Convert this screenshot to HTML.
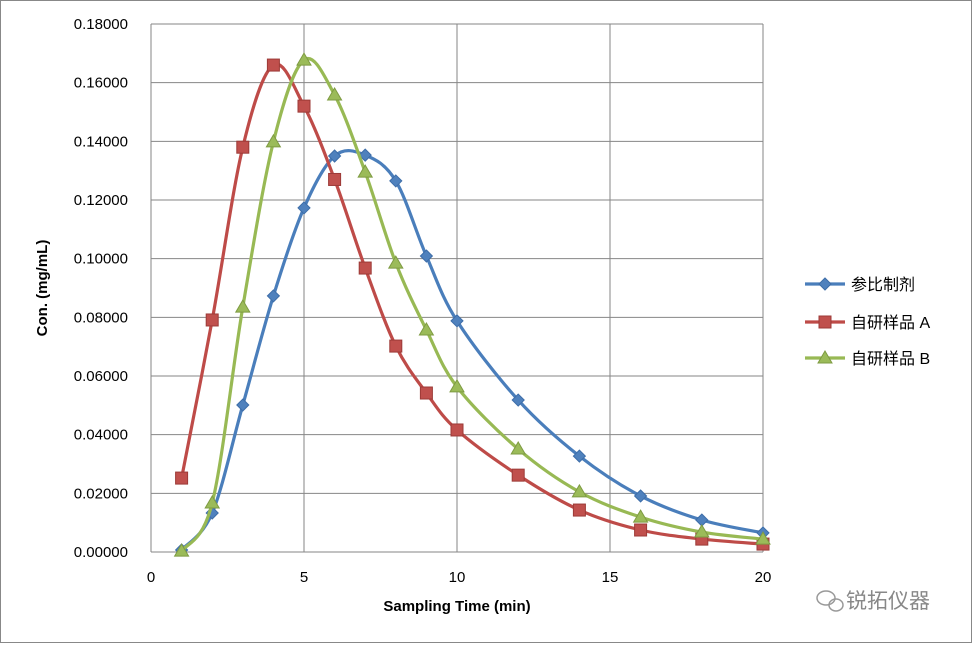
<!DOCTYPE html>
<html><head><meta charset="utf-8"><style>
body{margin:0;background:#fff;}
svg text{font-family:"Liberation Sans","Noto Sans CJK SC",sans-serif;}
</style></head><body>
<svg id="c" width="973" height="644" xmlns="http://www.w3.org/2000/svg">
<rect x="0.5" y="0.5" width="971" height="642" fill="#fff" stroke="#888"/>
<g id="grid"></g><g id="axes"></g><g id="series"></g><g id="legend"></g>
<text transform="translate(47,288) rotate(-90)" x="0" y="0" font-size="15" font-weight="bold" text-anchor="middle">Con. (mg/mL)</text>
<text x="457" y="611" font-size="15" font-weight="bold" text-anchor="middle">Sampling Time (min)</text>
<g>
<ellipse cx="826" cy="598" rx="9" ry="7" fill="none" stroke="#999" stroke-width="1.5"/>
<ellipse cx="836" cy="605" rx="7" ry="6" fill="none" stroke="#999" stroke-width="1.5"/>
<text x="846" y="608" font-size="21" fill="#888">锐拓仪器</text></g>
</svg>
<script>
const xs=[1,2,3,4,5,6,7,8,9,10,12,14,16,18,20];
const refVals=[0.0007,0.0133,0.0501,0.0873,0.1173,0.1350,0.1353,0.1265,0.1009,0.0788,0.0518,0.0327,0.0191,0.0109,0.0065];
const aVals=[0.0252,0.0791,0.1380,0.1660,0.1520,0.1270,0.0968,0.0702,0.0542,0.0416,0.0262,0.0143,0.0075,0.0044,0.0027];
const bVals=[0.0003,0.0167,0.0835,0.1398,0.1677,0.1558,0.1295,0.0985,0.0757,0.0563,0.0351,0.0205,0.0119,0.0068,0.0044];
const yTicks=[0,0.02,0.04,0.06,0.08,0.10,0.12,0.14,0.16,0.18];
const xTicks=[0,5,10,15,20];
const names=["参比制剂","自研样品 A","自研样品 B"];
const NS="http://www.w3.org/2000/svg";
const X0=151,X1=763,Y0=552,Y1=24;
const sx=v=>X0+(v/20)*(X1-X0), sy=v=>Y0-(v/0.18)*(Y0-Y1);
function mk(t,a,p){const e=document.createElementNS(NS,t);for(const k in a)e.setAttribute(k,a[k]);(p||document.getElementById('c')).appendChild(e);return e;}
const G=document.getElementById('grid'),A=document.getElementById('axes'),S=document.getElementById('series'),L=document.getElementById('legend');
yTicks.forEach(v=>{const l=mk('line',{x1:X0,x2:X1,y1:sy(v),y2:sy(v),stroke:'#868686','stroke-width':1},G);


const t=mk('text',{x:128,y:sy(v)+5,'font-size':15,'text-anchor':'end'},A);t.textContent=v.toFixed(5);

});
xTicks.forEach(v=>{const l=mk('line',{x1:sx(v),x2:sx(v),y1:Y1,y2:Y0,stroke:'#868686','stroke-width':1},G);


const t=mk('text',{x:sx(v),y:582,'font-size':15,'text-anchor':'middle'},A);t.textContent=v;

});
function path(ys){const p=xs.map((x,i)=>[sx(x),sy(ys[i])]);let d=`M${p[0][0]},${p[0][1]}`;
for(let i=0;i<p.length-1;i++){const p0=p[i-1]||p[i],p1=p[i],p2=p[i+1],p3=p[i+2]||p2;const k=1/6;
d+=` C${p1[0]+(p2[0]-p0[0])*k},${p1[1]+(p2[1]-p0[1])*k} ${p2[0]-(p3[0]-p1[0])*k},${p2[1]-(p3[1]-p1[1])*k} ${p2[0]},${p2[1]}`;}return d;}
function marker(type,x,y,fill,stroke,g){let e;
if(type==0)e=mk('polygon',{points:`${x},${y-6} ${x+6},${y} ${x},${y+6} ${x-6},${y}`,fill,stroke},g);
else if(type==1)e=mk('rect',{x:x-6,y:y-6,width:12,height:12,fill,stroke},g);
else e=mk('polygon',{points:`${x},${y-7} ${x+7},${y+5} ${x-7},${y+5}`,fill,stroke},g);return e;}
const cols=[['#4a7ebb','#4f81bd','#3d6da8'],['#be4b48','#c0504d','#9c3a37'],['#98b954','#9bbb59','#7e9b42']];
[refVals,aVals,bVals].forEach((ys,si)=>{const g=mk('g',{},S);


const p=mk('path',{d:path(ys),fill:'none',stroke:cols[si][0],'stroke-width':3.2},g);


xs.forEach((x,i)=>{const m=marker(si,sx(x),sy(ys[i]),cols[si][1],cols[si][2],g);

});
const ly=[284,322,358][si];
const lg=mk('g',{},L);


mk('line',{x1:805,x2:845,y1:ly,y2:ly,stroke:cols[si][0],'stroke-width':3.2},lg);
marker(si,825,ly,cols[si][1],cols[si][2],lg);
const t=mk('text',{x:851,y:ly+6,'font-size':16},lg);t.textContent=names[si];});
</script>
</body></html>
